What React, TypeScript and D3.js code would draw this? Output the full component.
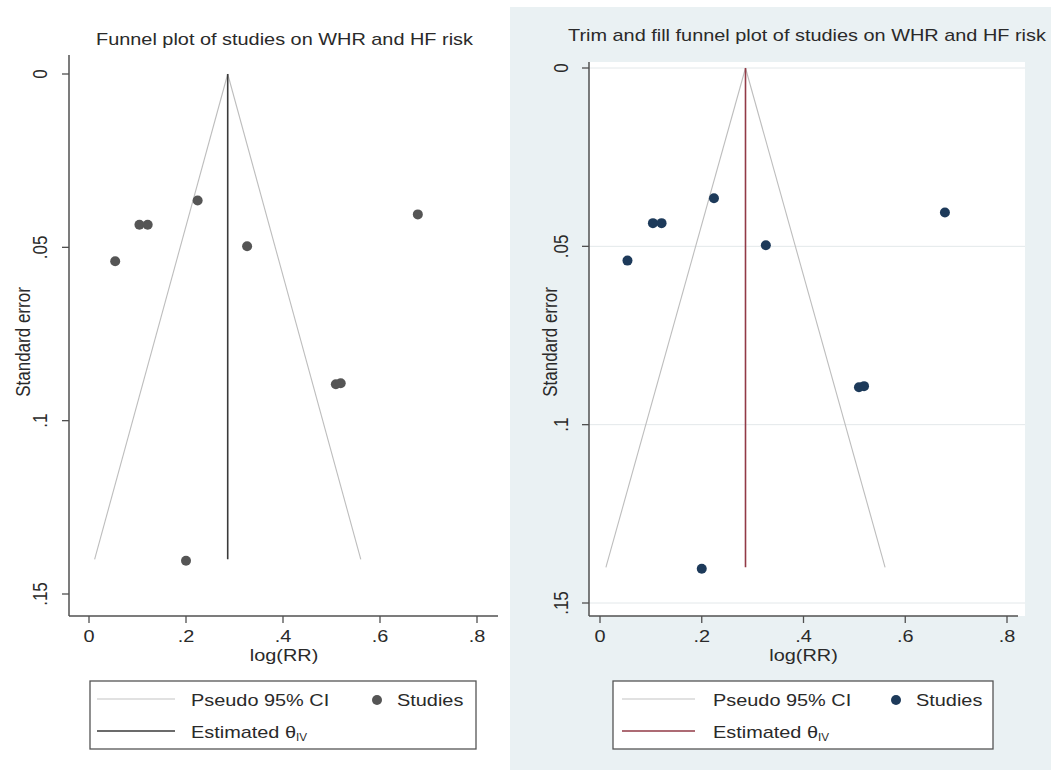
import React from "react";
import * as d3 from "d3";

// ---- data ----
const thetaIV = 0.286;
const studyLogRR = [0.054, 0.104, 0.121, 0.224, 0.326, 0.678, 0.509, 0.519, 0.2];
const studySE = [0.054, 0.0435, 0.0435, 0.0365, 0.0497, 0.0405, 0.0895, 0.0892, 0.1404];
const seMax = 0.14;
const xTicks = [0, 0.2, 0.4, 0.6, 0.8];
const yTicks = [0, 0.05, 0.1, 0.15];
const fmt = (v: number) => (v === 0 ? "0" : String(v).replace(/^0/, ""));

const SX = 1.17;
const FS = 17;
const FONT = "'Liberation Sans', Arial, sans-serif";
const TXT = "#2a2a2a";

function T({ x, y, rot = false, anchor = "start", size = FS, children }: any) {
  return (
    <text
      transform={`translate(${x},${y}) scale(${SX},1)${rot ? " rotate(-90)" : ""}`}
      textAnchor={anchor}
      fontSize={size}
      fontFamily={FONT}
      fill={TXT}
    >
      {children}
    </text>
  );
}

const panels = [
  {
    title: "Funnel plot of studies on WHR and HF risk",
    titleX: 284.5, titleY: 45, titleAnchor: "middle",
    x0: 89, x8: 477, axisL: 69, axisR: 498, y0: 74, y15: 594, axisT: 55, axisB: 616,
    ylabX: 30, tickLabX: 47, xlabX: 284,
    dot: "#555555", theta: "#3a3a3a", grid: false,
    lg: { x1: 90, x2: 476, l1: 97, l2: 175, tx: 191, dx: 377, sx: 397 },
  },
  {
    title: "Trim and fill funnel plot of studies on WHR and HF risk",
    titleX: 568, titleY: 41, titleAnchor: "start",
    x0: 600, x8: 1007, axisL: 589, axisR: 1018, y0: 68, y15: 603, axisT: 62, axisB: 616,
    ylabX: 557, tickLabX: 568, xlabX: 803.5,
    dot: "#1d3a5a", theta: "#923a46", grid: true,
    lg: { x1: 613, x2: 993, l1: 622, l2: 695, tx: 713, dx: 896, sx: 916 },
  },
];

function Panel({ p }: any) {
  const x = d3.scaleLinear().domain([0, 0.8]).range([p.x0, p.x8]);
  const y = d3.scaleLinear().domain([0, 0.15]).range([p.y0, p.y15]);
  const line = d3.line<[number, number]>().x((d) => x(d[0])).y((d) => y(d[1]));
  const funnelL: [number, number][] = [[thetaIV, 0], [thetaIV - 1.96 * seMax, seMax]];
  const funnelR: [number, number][] = [[thetaIV, 0], [thetaIV + 1.96 * seMax, seMax]];
  const thetaLine: [number, number][] = [[thetaIV, 0], [thetaIV, seMax]];
  const axisCol = "#505050";
  return (
    <g>
      {p.grid && (
        <rect x={p.axisL} y={p.axisT} width={1025 - p.axisL} height={p.axisB - p.axisT} fill="#ffffff" />
      )}
      {p.grid &&
        yTicks.map((t) => (
          <line key={"g" + t} x1={p.axisL} x2={1025} y1={y(t)} y2={y(t)} stroke="#e3e8ea" strokeWidth={1} />
        ))}
      <T x={p.titleX} y={p.titleY} anchor={p.titleAnchor}>{p.title}</T>
      {/* funnel */}
      <path d={line(funnelL) || ""} fill="none" stroke="#bdbdbd" strokeWidth={1.1} />
      <path d={line(funnelR) || ""} fill="none" stroke="#bdbdbd" strokeWidth={1.1} />
      <path d={line(thetaLine) || ""} fill="none" stroke={p.theta} strokeWidth={1.6} />
      {studyLogRR.map((v, i) => (
        <circle key={i} cx={x(v)} cy={y(studySE[i])} r={5} fill={p.dot} />
      ))}
      {/* axes */}
      <line x1={p.axisL} x2={p.axisL} y1={p.axisT} y2={p.axisB} stroke={axisCol} strokeWidth={1.5} />
      <line x1={p.axisL} x2={p.axisR} y1={p.axisB} y2={p.axisB} stroke={axisCol} strokeWidth={1.5} />
      {yTicks.map((t) => (
        <g key={"y" + t}>
          <line x1={p.axisL - 7} x2={p.axisL} y1={y(t)} y2={y(t)} stroke={axisCol} strokeWidth={1.3} />
          <T x={p.tickLabX} y={y(t)} rot anchor="middle">{fmt(t)}</T>
        </g>
      ))}
      {xTicks.map((t) => (
        <g key={"x" + t}>
          <line x1={x(t)} x2={x(t)} y1={p.axisB} y2={p.axisB + 7} stroke={axisCol} strokeWidth={1.3} />
          <T x={x(t)} y={642} anchor="middle">{fmt(t)}</T>
        </g>
      ))}
      <T x={p.xlabX} y={661} anchor="middle">log(RR)</T>
      <T x={p.ylabX} y={342} rot anchor="middle">Standard error</T>
      {/* legend */}
      <rect x={p.lg.x1} y={681} width={p.lg.x2 - p.lg.x1} height={68} fill="#ffffff" stroke="#555" strokeWidth={1.3} />
      <line x1={p.lg.l1} x2={p.lg.l2} y1={699} y2={699} stroke="#c4c4c4" strokeWidth={1.1} />
      <T x={p.lg.tx} y={706}>Pseudo 95% CI</T>
      <circle cx={p.lg.dx} cy={700} r={5} fill={p.dot} />
      <T x={p.lg.sx} y={706}>Studies</T>
      <line x1={p.lg.l1} x2={p.lg.l2} y1={731} y2={731} stroke={p.theta} strokeWidth={1.6} />
      <T x={p.lg.tx} y={738}>
        Estimated θ<tspan fontSize={10} dy={3}>IV</tspan>
      </T>
    </g>
  );
}

export default function App() {
  return (
    <svg
      width={1051}
      height={770}
      style={{ position: "absolute", left: 0, top: 0, background: "#ffffff" }}
    >
      <rect x={0} y={0} width={1051} height={770} fill="#ffffff" />
      <rect x={510} y={7} width={541} height={763} fill="#eaf1f3" />
      {panels.map((p, i) => (
        <Panel key={i} p={p} />
      ))}
    </svg>
  );
}
